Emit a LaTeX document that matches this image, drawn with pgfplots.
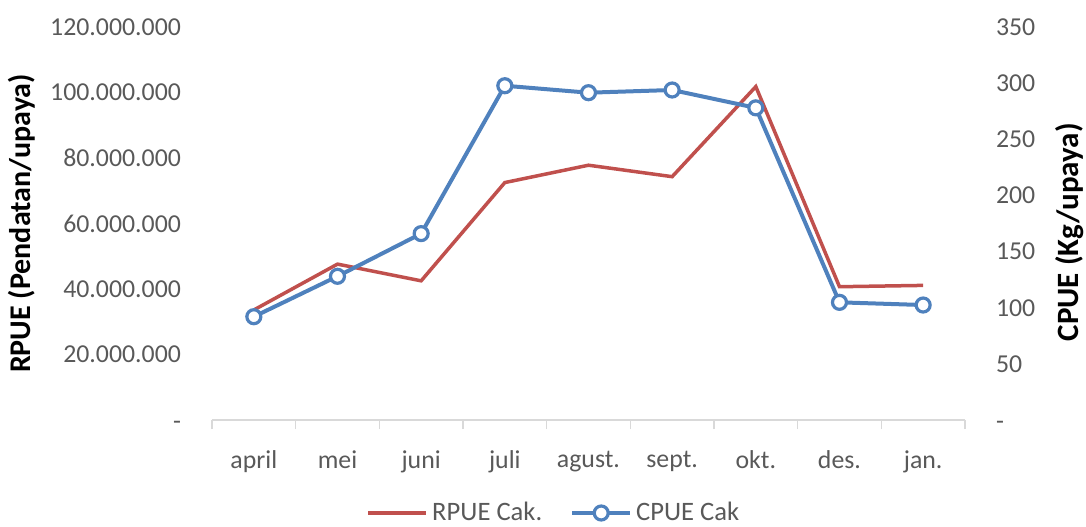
\documentclass[border=0pt]{standalone}
\usepackage{pgfplots}
\pgfplotsset{compat=1.18}
\usepackage{fontspec}
\setmainfont{Carlito}
\definecolor{cred}{HTML}{C0504D}
\definecolor{cblue}{HTML}{4F81BD}
\definecolor{tickgray}{HTML}{595959}
\definecolor{axgray}{HTML}{D9D9D9}
\pgfplotsset{common/.style={
  scale only axis, width=376.5pt, height=196.5pt,
  at={(0,0)}, anchor=south west,
  xmin=-0.5, xmax=8.5,
  ticklabel style={font=\fontsize{12.9}{15}\selectfont, text=tickgray},
  major tick length=0pt,
  clip=false,
}}
\begin{document}
\begin{tikzpicture}[font=\fontsize{12.9}{15}\selectfont]
\path[use as bounding box] (-106pt,-53pt) rectangle (437pt,210pt);
\begin{axis}[common,
  axis x line*=bottom, axis y line*=left,
  y axis line style={draw=none},
  x axis line style={draw=axgray, line width=0.75pt},
  xtick={0,1,2,3,4,5,6,7,8},
  xticklabels={april,mei,juni,juli,agust.,sept.,okt.,des.,jan.},
  minor xtick={-0.5,0.5,1.5,2.5,3.5,4.5,5.5,6.5,7.5,8.5},
  minor tick length=4.5pt, tick align=outside,
  minor tick style={draw=axgray, line width=0.75pt},
  xticklabel style={yshift=-12pt},
  ymin=0, ymax=120000000,
  ytick={0,20000000,40000000,60000000,80000000,100000000,120000000},
  yticklabels={\raisebox{-4.6pt}[0pt][0pt]{-},20.000.000,40.000.000,60.000.000,80.000.000,100.000.000,120.000.000},
  scaled y ticks=false,
  yticklabel style={xshift=-12pt},
  ylabel={RPUE (Pendatan/upaya)},
  every axis y label/.style={at={(axis description cs:-0.2523,0.5)}, rotate=90, anchor=center, font=\bfseries\fontsize{15}{17}\selectfont},
]
\addplot[cred, line width=1.75pt] coordinates {
(0,33600000) (1,47600000) (2,42500000) (3,72500000) (4,77800000)
(5,74300000) (6,101800000) (7,40700000) (8,41100000)};
\end{axis}
\begin{axis}[common,
  axis x line=none, axis y line*=right,
  y axis line style={draw=none},
  ymin=0, ymax=350,
  ytick={0,50,100,150,200,250,300,350},
  yticklabels={\raisebox{-4.6pt}[0pt][0pt]{-},50,100,150,200,250,300,350},
  yticklabel style={anchor=west, xshift=12pt},
  ylabel={CPUE (Kg/upaya)},
  every axis y label/.style={at={(axis description cs:1.1394,0.478)}, rotate=90, anchor=center, font=\bfseries\fontsize{15.5}{17}\selectfont},
  legend columns=2,
  legend image code/.code={\draw[mark repeat=2,mark phase=2,#1] plot coordinates {(0pt,0pt) (14.5pt,0pt) (29pt,0pt)};},
  legend style={at={(axis description cs:0.4555,-0.2366)}, anchor=center, draw=none, fill=none,
    font=\fontsize{13.3}{15}\selectfont, text=tickgray,
    /tikz/every even column/.append style={column sep=12pt},
    inner sep=0pt, nodes={inner sep=2pt}},
]
\addlegendimage{cred, line width=1.75pt}
\addlegendentry{RPUE Cak.}
\addplot[cblue, line width=2pt, mark=*, mark size=3.5pt, mark options={fill=white, draw=cblue, line width=1.6pt}] coordinates {
(0,92) (1,128) (2,166) (3,297.7) (4,291.5) (5,293.9) (6,278) (7,104.8) (8,102.4)};
\addlegendentry{CPUE Cak}
\end{axis}
\end{tikzpicture}
\end{document}
